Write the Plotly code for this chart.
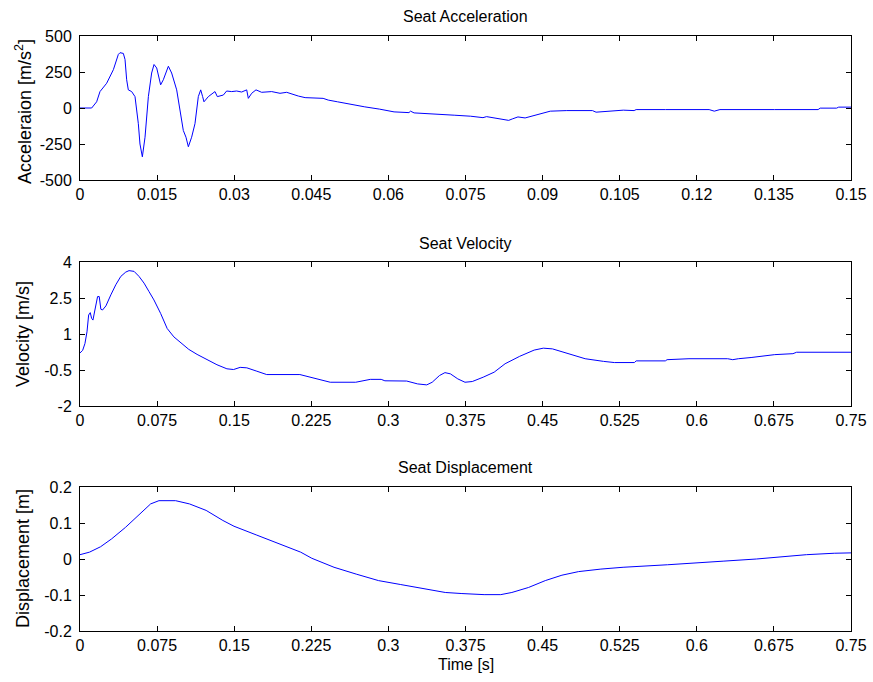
import plotly.graph_objects as go

# ---- Seat acceleration (0 - 0.15 s) ----
acc_t = [0, 0.00227, 0.00324, 0.00389, 0.00519, 0.00649, 0.00746, 0.00778, 0.00843, 0.00876,
         0.00908, 0.0094, 0.01005, 0.0107, 0.01135, 0.01167, 0.01213, 0.01265, 0.0133, 0.01394,
         0.0144, 0.01492, 0.01569, 0.01621, 0.01719, 0.01783, 0.01881, 0.01946, 0.0201, 0.02062,
         0.02108, 0.02172, 0.02237, 0.02302, 0.02348, 0.02386, 0.02412, 0.02497, 0.02626, 0.02672,
         0.02789, 0.02853, 0.02951, 0.03048, 0.03145, 0.03243, 0.03275, 0.0334, 0.03424, 0.03534,
         0.03729, 0.03891, 0.04021, 0.04248, 0.0438, 0.0473, 0.0483, 0.0501, 0.0522, 0.0554,
         0.0583, 0.0611, 0.064, 0.0643, 0.065, 0.0685, 0.0728, 0.076, 0.0784, 0.0791,
         0.0816, 0.0834, 0.0841, 0.0852, 0.0866, 0.089, 0.0915, 0.0947, 0.0997, 0.1004,
         0.1022, 0.1057, 0.1078, 0.1082, 0.1139, 0.1224, 0.1234, 0.1245, 0.1351, 0.1436,
         0.144, 0.1472, 0.1476, 0.15]
acc_v = [0, 0, 43, 114, 172, 266, 372, 384, 379, 337,
         196, 126, 114, 79, -109, -250, -339, -203, 79, 243,
         302, 278, 161, 196, 290, 243, 126, -15, -156, -203,
         -269, -203, -109, 79, 126, 79, 43, 79, 114, 79,
         90, 118, 114, 118, 111, 126, 67, 102, 126, 109,
         114, 102, 109, 83, 72, 67, 55, 43, 27, 8,
         -8, -27, -32, -22, -34, -39, -50, -57, -67, -60,
         -74, -86, -76, -62, -69, -46, -22, -18, -18, -29,
         -25, -15, -18, -11, -11, -11, -22, -11, -11, -11,
         -1, -1, 6, 6]

# ---- Seat velocity (0 - 0.75 s) ----
vel_t = [0, 0.0026, 0.0048, 0.0068, 0.0084, 0.01, 0.0113, 0.0126, 0.0145, 0.0171,
         0.0187, 0.0203, 0.0219, 0.0252, 0.03, 0.0348, 0.0397, 0.0445, 0.0477, 0.0526,
         0.0574, 0.0623, 0.0671, 0.0719, 0.0784, 0.0848, 0.0913, 0.0994, 0.1058, 0.1139,
         0.1236, 0.1332, 0.1429, 0.1494, 0.1558, 0.1623, 0.172, 0.1816, 0.2139, 0.2251,
         0.2434, 0.2682, 0.2824, 0.293, 0.2966, 0.3178, 0.3284, 0.3373, 0.3426, 0.3497,
         0.355, 0.3603, 0.3675, 0.3745, 0.3816, 0.3922, 0.4029, 0.4135, 0.4277, 0.4418,
         0.4507, 0.4596, 0.4737, 0.4914, 0.5092, 0.5198, 0.5393, 0.541, 0.5694, 0.5711,
         0.5924, 0.63, 0.635, 0.6404, 0.6528, 0.6616, 0.6758, 0.6935, 0.6971, 0.75]
vel_v = [0.21, 0.32, 0.60, 1.09, 1.79, 1.89, 1.65, 1.58, 2.0, 2.56,
         2.56, 2.03, 2.0, 2.17, 2.63, 3.05, 3.40, 3.58, 3.64, 3.61,
         3.40, 3.12, 2.77, 2.42, 1.86, 1.23, 0.88, 0.60, 0.36, 0.15,
         -0.07, -0.28, -0.45, -0.48, -0.39, -0.41, -0.55, -0.69, -0.69, -0.80,
         -1.01, -1.01, -0.89, -0.89, -0.95, -0.96, -1.08, -1.12, -1.01, -0.73,
         -0.61, -0.66, -0.87, -1.01, -0.98, -0.80, -0.59, -0.24, 0.07, 0.33,
         0.41, 0.38, 0.19, -0.03, -0.14, -0.19, -0.19, -0.12, -0.12, -0.07,
         -0.03, -0.03, -0.07, -0.03, 0.02, 0.07, 0.14, 0.18, 0.24, 0.24]

# ---- Seat displacement (0 - 0.75 s) ----
disp_t = [0, 0.0092, 0.02, 0.0308, 0.0443, 0.0579, 0.0687, 0.0768, 0.093, 0.1065,
          0.1227, 0.139, 0.1498, 0.1714, 0.193, 0.2147, 0.2255, 0.2471, 0.2687, 0.2904,
          0.312, 0.3336, 0.3553, 0.3715, 0.3931, 0.4093, 0.4201, 0.4364, 0.4526, 0.4688,
          0.485, 0.5067, 0.5283, 0.5716, 0.5986, 0.6256, 0.658, 0.6797, 0.7067, 0.7337, 0.75]
disp_v = [0.012, 0.019, 0.034, 0.056, 0.088, 0.125, 0.153, 0.162, 0.162, 0.153,
          0.135, 0.107, 0.091, 0.067, 0.042, 0.019, 0.002, -0.023, -0.042, -0.060,
          -0.071, -0.083, -0.093, -0.096, -0.099, -0.099, -0.093, -0.079, -0.060, -0.045,
          -0.035, -0.028, -0.023, -0.016, -0.010, -0.006, 0.000, 0.005, 0.012, 0.016, 0.017]

# ---- Tick values and labels ----
acc_xticks = [0, 0.015, 0.03, 0.045, 0.06, 0.075, 0.09, 0.105, 0.12, 0.135, 0.15]
acc_xlabels = ["0", "0.015", "0.03", "0.045", "0.06", "0.075", "0.09", "0.105", "0.12", "0.135", "0.15"]
acc_yticks = [-500, -250, 0, 250, 500]
acc_ylabels = ["-500", "-250", "0", "250", "500"]

time_xticks = [0, 0.075, 0.15, 0.225, 0.3, 0.375, 0.45, 0.525, 0.6, 0.675, 0.75]
time_xlabels = ["0", "0.075", "0.15", "0.225", "0.3", "0.375", "0.45", "0.525", "0.6", "0.675", "0.75"]
vel_yticks = [-2, -0.5, 1, 2.5, 4]
vel_ylabels = ["-2", "-0.5", "1", "2.5", "4"]
disp_yticks = [-0.2, -0.1, 0, 0.1, 0.2]
disp_ylabels = ["-0.2", "-0.1", "0", "0.1", "0.2"]

FONT = "Liberation Sans, Arial, sans-serif"
LINE = dict(color="rgb(0,0,255)", width=1)

fig = go.Figure()
fig.add_trace(go.Scatter(x=acc_t, y=acc_v, mode="lines", line=LINE, xaxis="x", yaxis="y"))
fig.add_trace(go.Scatter(x=vel_t, y=vel_v, mode="lines", line=LINE, xaxis="x2", yaxis="y2"))
fig.add_trace(go.Scatter(x=disp_t, y=disp_v, mode="lines", line=LINE, xaxis="x3", yaxis="y3"))

W, H = 873, 682
ML, MR, MT, MB = 80, 22, 36, 51
plot_h = H - MT - MB


def py(px):
    # pixel row (from the top of the figure) -> paper y
    return (H - MB - px) / plot_h


def frac(top_px, bottom_px):
    return [max(0.0, py(bottom_px)), min(1.0, py(top_px))]


axis_common = dict(
    showline=True, linecolor="black", linewidth=1, mirror="ticks",
    ticks="inside", ticklen=5, tickwidth=1, tickcolor="black",
    showgrid=False, zeroline=False, automargin=False,
    tickfont=dict(family=FONT, size=16, color="black"),
)
xax = dict(axis_common, ticklabelstandoff=0)
yax = dict(axis_common, ticklabelstandoff=4)

fig.update_layout(
    width=W, height=H,
    margin=dict(l=ML, r=MR, t=MT, b=MB),
    paper_bgcolor="white", plot_bgcolor="white",
    showlegend=False,
    font=dict(family=FONT, size=16, color="black"),
    xaxis=dict(xax, domain=[0, 1], range=[0, 0.15], anchor="y",
               tickvals=acc_xticks, ticktext=acc_xlabels),
    yaxis=dict(yax, domain=frac(36, 180), range=[-500, 500], anchor="x",
               tickvals=acc_yticks, ticktext=acc_ylabels),
    xaxis2=dict(xax, domain=[0, 1], range=[0, 0.75], anchor="y2",
                tickvals=time_xticks, ticktext=time_xlabels),
    yaxis2=dict(yax, domain=frac(262, 406), range=[-2, 4], anchor="x2",
                tickvals=vel_yticks, ticktext=vel_ylabels),
    xaxis3=dict(xax, domain=[0, 1], range=[0, 0.75], anchor="y3",
                tickvals=time_xticks, ticktext=time_xlabels),
    yaxis3=dict(yax, domain=frac(487, 631), range=[-0.2, 0.2], anchor="x3",
                tickvals=disp_yticks, ticktext=disp_ylabels),
)

annotations = []
# panel titles
for text, row in [("Seat Acceleration", 17), ("Seat Velocity", 243), ("Seat Displacement", 467)]:
    annotations.append(dict(text=text, xref="paper", yref="paper", x=0.5, y=py(row),
                            xanchor="center", yanchor="middle", showarrow=False,
                            font=dict(family=FONT, size=16, color="black")))
# y-axis titles
for text, center in [("Acceleraion [m/s<sup>2</sup>]", 112),
                     ("Velocity [m/s]", 334),
                     ("Displacement [m]", 559)]:
    annotations.append(dict(text=text, xref="paper", yref="paper", x=0, xshift=-57,
                            y=py(center), xanchor="center", yanchor="middle",
                            textangle=-90, showarrow=False,
                            font=dict(family=FONT, size=18, color="black")))
# x-axis title
annotations.append(dict(text="Time [s]", xref="paper", yref="paper", x=0.5, y=py(664),
                        xanchor="center", yanchor="middle", showarrow=False,
                        font=dict(family=FONT, size=16, color="black")))
fig.update_layout(annotations=annotations)

fig.write_html("out.html")
